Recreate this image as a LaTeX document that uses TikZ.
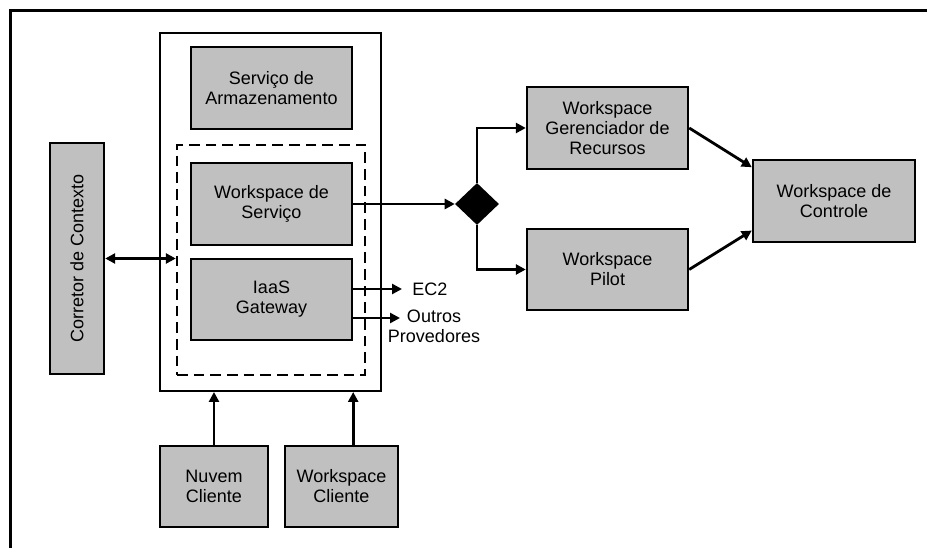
\documentclass[tikz,border=0pt]{standalone}
\usepackage{fontspec}
\setmainfont{Liberation Sans}
\usetikzlibrary{arrows.meta,shapes.geometric,calc}
\definecolor{boxgray}{HTML}{C0C0C0}
\newcommand{\px}[1]{#1*0.75pt}
\tikzset{
  gbox/.style={draw, line width=1.8pt, fill=boxgray, align=center, inner sep=0pt,
    font=\fontsize{13.5}{15}\selectfont},
  arr/.style={line width=2.1pt, -{Triangle[length=7.5pt,width=7.5pt]}},
  arrtwo/.style={line width=2.1pt, {Triangle[length=7.5pt,width=7.5pt]}-{Triangle[length=7.5pt,width=7.5pt]}},
  lbl/.style={font=\fontsize{13.5}{15}\selectfont, align=center, inner sep=0pt}
}
\begin{document}
\begin{tikzpicture}[x=0.75pt,y=-0.75pt]
\useasboundingbox (0,0) rectangle (927,548);
% frame
\draw[line width=2.4pt] (10.5,548) -- (10.5,10.5) -- (927,10.5);
% containers
\node[draw, line width=1.5pt, fill=white, minimum width=\px{221}, minimum height=\px{358}, inner sep=0pt] (outer) at (270.5,212) {};
\node[draw, line width=1.8pt, dash pattern=on 8pt off 4.5pt, minimum width=\px{188}, minimum height=\px{230}, inner sep=0pt] (grp) at (271,260) {};
% boxes
\node[gbox, minimum width=\px{161}, minimum height=\px{82}] (sa) at (271.5,88) {Serviço de\\Armazenamento};
\node[gbox, minimum width=\px{161}, minimum height=\px{82}] (ws) at (271.5,204) {Workspace de\\Serviço};
\node[gbox, minimum width=\px{161}, minimum height=\px{81}] (gw) at (271.5,299.5) {IaaS\\Gateway};
\node[gbox, rotate=90, minimum width=\px{231}, minimum height=\px{54}] (cc) at (77,258.5) {Corretor de Contexto};
\node[gbox, minimum width=\px{161}, minimum height=\px{82}] (wgr) at (607.5,128) {Workspace\\Gerenciador de\\Recursos};
\node[gbox, minimum width=\px{161}, minimum height=\px{81}] (wp) at (607.5,269.5) {Workspace\\Pilot};
\node[gbox, minimum width=\px{162}, minimum height=\px{82}] (ctl) at (834,201) {Workspace de\\Controle};
\node[gbox, minimum width=\px{108}, minimum height=\px{81}] (nc) at (214,486.5) {Nuvem\\Cliente};
\node[gbox, minimum width=\px{113}, minimum height=\px{81}] (wc) at (341.5,486.5) {Workspace\\Cliente};
\node[diamond, fill=black, minimum width=\px{44}, minimum height=\px{42}, inner sep=0pt] (dia) at (477,204) {};
% labels
\coordinate (ec2end) at (402,289);
\coordinate (outend) at (400,318);
\node[lbl, anchor=west] (ec2) at (412,289) {EC2};
\node[lbl] (outros) at (434,326) {Outros\\Provedores};
% connectors
\draw[arrtwo] (cc.south) -- (cc.south -| grp.west);
\draw[arr] (ws.east) -- (dia.west);
\draw[arr] (dia.north) |- (wgr.west);
\draw[arr] (dia.south) |- (wp.west);
\draw[arr] (wgr.east) -- ($(ctl.north west)!0.1!(ctl.south west)$);
\draw[arr] (wp.east) -- ($(ctl.north west)!0.85!(ctl.south west)$);
\draw[arr] (gw.east |- ec2end) -- (ec2end);
\draw[arr] (gw.east |- outend) -- (outend);
\draw[arr] (nc.north) -- (nc.north |- outer.south);
\draw[arr] (wc.north -| ws.east) -- (ws.east |- outer.south);
\end{tikzpicture}
\end{document}
